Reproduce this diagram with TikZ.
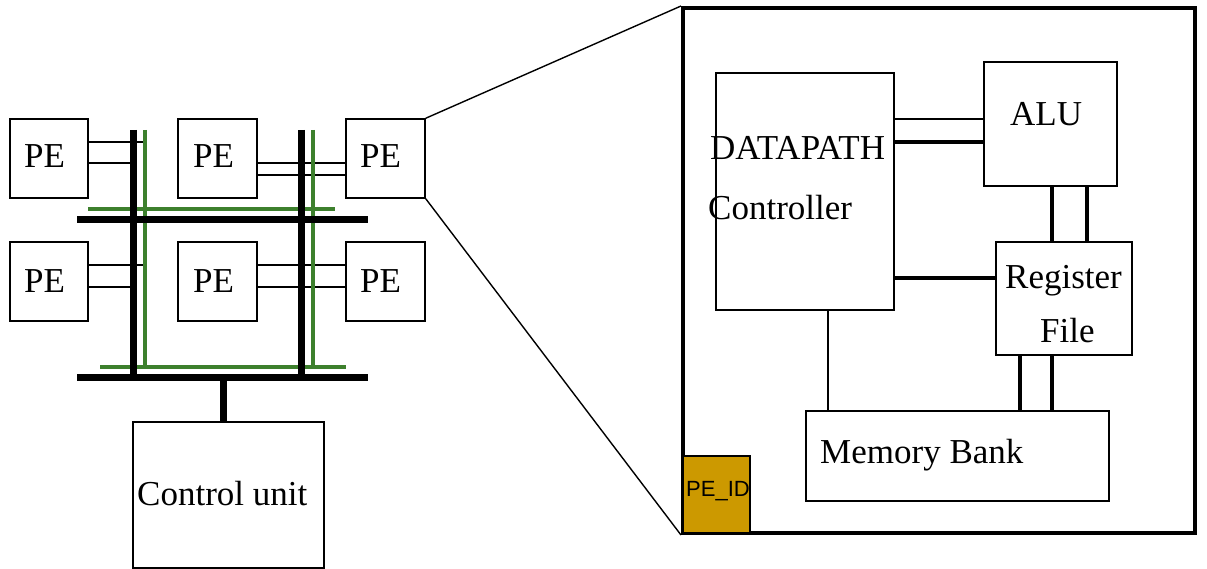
\documentclass[tikz,border=0pt]{standalone}
\usepackage{fontspec}
\setmainfont{Liberation Serif}
\newfontfamily\pesans{Liberation Sans}
\definecolor{busgreen}{RGB}{61,128,45}
\definecolor{idgold}{RGB}{204,153,0}
\begin{document}
\begin{tikzpicture}[x=1pt,y=-1pt,
  box/.style={draw, line width=1.5pt, inner sep=0pt},
  lbl/.style={inner sep=0pt, anchor=base west, font=\fontsize{35}{40}\selectfont},
  thinl/.style={line width=1.4pt},
  heavy/.style={line width=3.6pt},
  bus/.style={line width=7pt},
  gbus/.style={line width=4pt, draw=busgreen}]
\useasboundingbox (0,0) rectangle (1207,569);
% ---------- left array ----------
\node[box, minimum width=78pt, minimum height=79pt] (pe1) at (49,158.5) {};
\node[box, minimum width=79pt, minimum height=79pt] (pe2) at (217.5,158.5) {};
\node[box, minimum width=79pt, minimum height=79pt] (pe3) at (385.5,158.5) {};
\node[box, minimum width=78pt, minimum height=79pt] (pe4) at (49,281.5) {};
\node[box, minimum width=79pt, minimum height=79pt] (pe5) at (217.5,281.5) {};
\node[box, minimum width=79pt, minimum height=79pt] (pe6) at (385.5,281.5) {};
\node[box, minimum width=191pt, minimum height=146pt] (ctrl) at (228.5,495) {};
\node[lbl] (t1) at (24,168) {PE};
\node[lbl] (t2) at (193,168) {PE};
\node[lbl] (t3) at (360,168) {PE};
\node[lbl] (t4) at (24,292) {PE};
\node[lbl] (t5) at (193,292) {PE};
\node[lbl] (t6) at (360,292) {PE};
\node[lbl] (tc) at (137,505) {Control unit};
% row levels
\coordinate (r1a) at (0,142);
\coordinate (r1b) at (0,163);
\coordinate (r1c) at (0,175);
\coordinate (r2a) at (0,265);
\coordinate (r2b) at (0,287);
% bus coordinates
\coordinate (bv1t) at (133,130); \coordinate (bv1b) at (133,377);
\coordinate (bv2t) at (301,130); \coordinate (bv2b) at (301,377);
\coordinate (gv1t) at (145,130); \coordinate (gv1b) at (145,367);
\coordinate (gv2t) at (313,130); \coordinate (gv2b) at (313,367);
\coordinate (bh1l) at (77,220); \coordinate (bh1r) at (368,220);
\coordinate (bh2l) at (77,377); \coordinate (bh2r) at (368,377);
\coordinate (gh1l) at (88,209); \coordinate (gh1r) at (335,209);
\coordinate (gh2l) at (100,367); \coordinate (gh2r) at (346,367);
\coordinate (stemtop) at (223,377);
% PE links
\draw[thinl] (pe1.east |- r1a) -- (gv1t |- r1a);
\draw[thinl] (pe1.east |- r1b) -- (bv1t |- r1b);
\draw[thinl] (pe2.east |- r1b) -- (pe3.west |- r1b);
\draw[thinl] (pe2.east |- r1c) -- (pe3.west |- r1c);
\draw[thinl] (pe4.east |- r2a) -- (gv1t |- r2a);
\draw[thinl] (pe4.east |- r2b) -- (bv1t |- r2b);
\draw[thinl] (pe5.east |- r2a) -- (pe6.west |- r2a);
\draw[thinl] (pe5.east |- r2b) -- (pe6.west |- r2b);
% buses
\draw[gbus] (gv1t) -- (gv1b);
\draw[gbus] (gv2t) -- (gv2b);
\draw[gbus] (gh1l) -- (gh1r);
\draw[gbus] (gh2l) -- (gh2r);
\draw[bus] (bv1t) -- (bv1b);
\draw[bus] (bv2t) -- (bv2b);
\draw[bus] (bh1l) -- (bh1r);
\draw[bus] (bh2l) -- (bh2r);
\draw[bus] (stemtop) -- (stemtop |- ctrl.north);
% ---------- detail ----------
\node[box, line width=4pt, minimum width=512pt, minimum height=525pt] (big) at (939,270.5) {};
\draw[thinl] (pe3.north east) -- (big.north west);
\draw[thinl] (pe3.south east) -- (big.south west);
\node[box, minimum width=178pt, minimum height=237pt] (dp) at (805,191.5) {};
\node[box, minimum width=133pt, minimum height=124pt] (alu) at (1050.5,124) {};
\node[box, minimum width=136pt, minimum height=113pt] (reg) at (1064,298.5) {};
\node[box, minimum width=303pt, minimum height=90pt] (mem) at (957.5,456) {};
\node[box, fill=idgold, minimum width=67pt, minimum height=77pt] (peid) at (716.5,494.5) {};
\node[lbl] (tdp) at (710,160) {DATAPATH};
\node[lbl] (tct) at (708,220) {Controller};
\node[lbl] (talu) at (1010,126) {ALU};
\node[lbl] (treg) at (1005,289) {Register};
\node[lbl] (tfile) at (1040,342) {File};
\node[lbl] (tmem) at (820,463) {Memory Bank};
\node[inner sep=0pt, anchor=base, font=\pesans\fontsize{22}{26}\selectfont] (tid) at (718,496) {PE\_ID};
\coordinate (d1) at (0,119);
\coordinate (d2) at (0,142);
\coordinate (d3) at (0,278);
\coordinate (v1) at (1052,0);
\coordinate (v2) at (1087,0);
\coordinate (v3) at (828,0);
\coordinate (v4) at (1020,0);
\draw[thinl] (dp.east |- d1) -- (alu.west |- d1);
\draw[heavy] (dp.east |- d2) -- (alu.west |- d2);
\draw[heavy] (dp.east |- d3) -- (reg.west |- d3);
\draw[heavy] (alu.south -| v1) -- (reg.north -| v1);
\draw[heavy] (alu.south -| v2) -- (reg.north -| v2);
\draw[thinl] (dp.south -| v3) -- (mem.north -| v3);
\draw[heavy] (reg.south -| v4) -- (mem.north -| v4);
\draw[heavy] (reg.south -| v1) -- (mem.north -| v1);
\end{tikzpicture}
\end{document}
